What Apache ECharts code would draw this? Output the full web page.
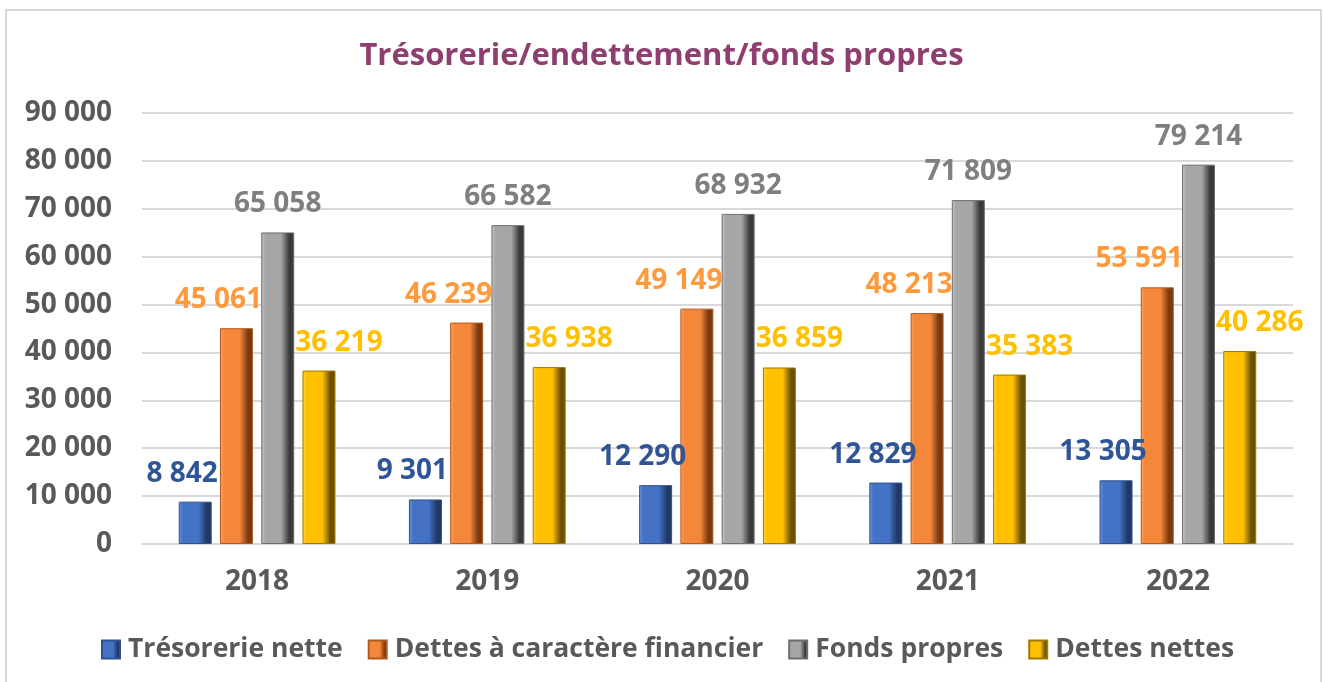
<!DOCTYPE html>
<html>
<head>
<meta charset="utf-8">
<script src="https://cdn.jsdelivr.net/npm/echarts@6/dist/echarts.min.js"></script>
<style>
  html, body { margin: 0; padding: 0; background: #fff; }
  #chart { width: 1323px; height: 682px; }
</style>
</head>
<body>
<div id="chart"></div>
<script>
// données
var years = ['2018', '2019', '2020', '2021', '2022'];
var tresorerieNette = [8842, 9301, 12290, 12829, 13305];
var dettesFinancieres = [45061, 46239, 49149, 48213, 53591];
var fondsPropres = [65058, 66582, 68932, 71809, 79214];
var dettesNettes = [36219, 36938, 36859, 35383, 40286];

var seriesNames = ['Trésorerie nette', 'Dettes à caractère financier', 'Fonds propres', 'Dettes nettes'];

function fmt(v) {
  return String(v).replace(/\B(?=(\d{3})+(?!\d))/g, ' ');
}

// dégradé horizontal pour imiter le biseau Excel
function bevel(light, base, dark) {
  return new echarts.graphic.LinearGradient(0, 0, 1, 0, [
    { offset: 0, color: light },
    { offset: 0.12, color: base },
    { offset: 0.6, color: base },
    { offset: 0.85, color: dark },
    { offset: 1, color: dark }
  ]);
}

function makeSeries(name, data, fill, border, labelColor, offsetX) {
  return {
    name: name,
    type: 'bar',
    data: data,
    barWidth: 33,
    barGap: '25%',
    itemStyle: { color: fill, borderColor: border, borderWidth: 1 },
    label: {
      show: true,
      position: 'top',
      distance: 14,
      offset: [offsetX, 0],
      color: labelColor,
      fontFamily: 'Open Sans',
      fontWeight: 'bold',
      fontSize: 28,
      formatter: function (p) { return fmt(p.value); }
    }
  };
}

var myChart = echarts.init(document.getElementById('chart'));
var option = {
  backgroundColor: '#fff',
  animation: false,
  title: {
    text: 'Trésorerie/endettement/fonds propres',
    left: 'center',
    top: 36,
    textStyle: {
      color: '#8E3F6F',
      fontFamily: 'Open Sans',
      fontWeight: 'bold',
      fontSize: 31
    }
  },
  graphic: [{
    type: 'rect',
    shape: { x: 6, y: 10, width: 1315, height: 700 },
    style: { fill: 'none', stroke: '#D9D9D9', lineWidth: 2 },
    silent: true
  }],
  legend: {
    bottom: 14,
    left: 96,
    itemWidth: 18,
    itemHeight: 18,
    itemGap: 25,
    icon: 'rect',
    textStyle: {
      color: '#595959',
      fontFamily: 'Open Sans',
      fontWeight: 'bold',
      fontSize: 26.5,
      padding: [0, 0, 0, 3]
    },
    data: seriesNames
  },
  grid: { left: 142, right: 30, top: 113, bottom: 138 },
  xAxis: {
    type: 'category',
    data: years,
    axisLine: { lineStyle: { color: '#D9D9D9', width: 2 } },
    axisTick: { show: false },
    axisLabel: {
      color: '#595959',
      fontFamily: 'Open Sans',
      fontWeight: 'bold',
      fontSize: 28,
      margin: 24
    }
  },
  yAxis: {
    type: 'value',
    min: 0,
    max: 90000,
    interval: 10000,
    axisLine: { show: false },
    axisTick: { show: false },
    splitLine: { lineStyle: { color: '#D9D9D9', width: 2 } },
    axisLabel: {
      color: '#595959',
      fontFamily: 'Open Sans',
      fontWeight: 'bold',
      fontSize: 28,
      margin: 30,
      formatter: function (v) { return fmt(v); }
    }
  },
  series: [
    makeSeries(seriesNames[0], tresorerieNette, bevel('#6F98E6', '#4472C4', '#1F3864'), '#2F528F', '#2F5597', -13),
    makeSeries(seriesNames[1], dettesFinancieres, bevel('#FFA266', '#F5873A', '#7A3A10'), '#B0591E', '#FF9A3C', -18),
    makeSeries(seriesNames[2], fondsPropres, bevel('#C8C8C8', '#A6A6A6', '#3A3A3A'), '#6E6E6E', '#7F7F7F', 0),
    makeSeries(seriesNames[3], dettesNettes, bevel('#FFD84D', '#FFC000', '#6B5000'), '#A07800', '#FFC000', 20)
  ]
};
myChart.setOption(option);
</script>
</body>
</html>
